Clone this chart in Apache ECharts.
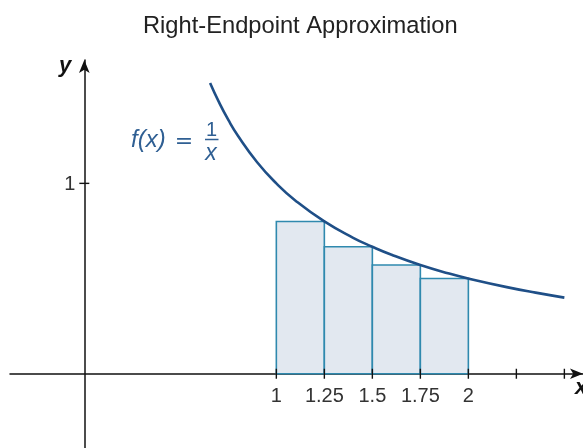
<!DOCTYPE html>
<html><head><meta charset="utf-8">
<script src="https://cdn.jsdelivr.net/npm/echarts@6/dist/echarts.min.js"></script>
<style>html,body{margin:0;padding:0;background:#fff}#c{width:583px;height:448px}</style>
</head><body><div id="c"></div>
<script>
// Data
var curveX = [0.655, 0.7, 0.75, 0.8, 0.9, 1.0, 1.1, 1.25, 1.4, 1.5, 1.6, 1.75, 1.9, 2.0, 2.2, 2.35, 2.5];
var curveY = [1.527, 1.429, 1.333, 1.25, 1.111, 1.0, 0.909, 0.8, 0.714, 0.667, 0.625, 0.571, 0.526, 0.5, 0.455, 0.426, 0.4];
var rectLeft = [1, 1.25, 1.5, 1.75];
var rectRight = [1.25, 1.5, 1.75, 2];
var rectHeight = [0.8, 0.667, 0.571, 0.5];
var xTickValues = [1, 1.25, 1.5, 1.75, 2, 2.25, 2.5];
var xTickLabels = ['1', '1.25', '1.5', '1.75', '2', '', ''];
var yTickValues = [1];
var yTickLabels = ['1'];

var curveData = curveX.map(function (x, i) { return [x, curveY[i]]; });
var rectData = rectLeft.map(function (l, i) { return [l, rectRight[i], rectHeight[i]]; });

var chart = echarts.init(document.getElementById('c'), null, {renderer: 'canvas'});
var labelFont = 'Liberation Sans, Arial, sans-serif';
var eqColor = '#2f5f93';
chart.setOption({
  animation: false,
  title: {
    text: 'Right-Endpoint Approximation',
    left: 138, top: 9,
    textStyle: {fontFamily: labelFont, fontSize: 23.7, fontWeight: 'normal', color: '#222'}
  },
  grid: {left: 10, top: 60, width: 573, height: 388, containLabel: false, outerBoundsMode: 'none'},
  xAxis: {
    type: 'value', min: -0.387, max: 2.597,
    splitLine: {show: false},
    axisLine: {onZero: true, lineStyle: {color: '#111', width: 1.5}, symbol: ['none', 'arrow'], symbolSize: [8, 13]},
    axisTick: {show: false},
    axisLabel: {show: false}
  },
  yAxis: {
    type: 'value', min: -0.390, max: 1.648,
    splitLine: {show: false},
    axisLine: {onZero: true, lineStyle: {color: '#111', width: 1.5}, symbol: ['none', 'arrow'], symbolSize: [8, 13]},
    axisTick: {show: false},
    axisLabel: {show: false}
  },
  series: [
    {
      type: 'custom', name: 'rects', data: rectData, z: 2,
      renderItem: function (params, api) {
        var p0 = api.coord([api.value(0), api.value(2)]);
        var p1 = api.coord([api.value(1), 0]);
        return {type: 'rect', shape: {x: p0[0], y: p0[1], width: p1[0] - p0[0], height: p1[1] - p0[1]},
          style: {fill: '#e2e8f0', stroke: '#2f89ae', lineWidth: 1.6}};
      }
    },
    {
      type: 'line', name: 'f', data: curveData, smooth: true, showSymbol: false, z: 5,
      lineStyle: {color: '#1f4f87', width: 2.6}
    },
    {
      type: 'custom', name: 'xticks', data: xTickValues.map(function (v) { return [v, 0]; }), z: 6,
      renderItem: function (params, api) {
        var p = api.coord([api.value(0), 0]);
        return {type: 'group', children: [
          {type: 'line', shape: {x1: p[0], y1: p[1] - 5, x2: p[0], y2: p[1] + 5},
            style: {stroke: '#111', lineWidth: 1.4}},
          {type: 'text', x: p[0], y: p[1] + 23, style: {text: xTickLabels[params.dataIndex],
            font: '20px Liberation Sans, Arial, sans-serif', fill: '#333', align: 'center', verticalAlign: 'middle'}}
        ]};
      }
    },
    {
      type: 'custom', name: 'yticks', data: yTickValues.map(function (v) { return [0, v]; }), z: 6,
      renderItem: function (params, api) {
        var p = api.coord([0, api.value(1)]);
        return {type: 'group', children: [
          {type: 'line', shape: {x1: p[0] - 5, y1: p[1], x2: p[0] + 5, y2: p[1]},
            style: {stroke: '#111', lineWidth: 1.4}},
          {type: 'text', x: p[0] - 9, y: p[1] + 1, style: {text: yTickLabels[params.dataIndex],
            font: '20px Liberation Sans, Arial, sans-serif', fill: '#333', align: 'right', verticalAlign: 'middle'}}
        ]};
      }
    }
  ],
  graphic: [
    {type: 'text', left: 59, top: 55, style: {text: 'y', font: 'italic bold 22px Liberation Sans, Arial, sans-serif', fill: '#111'}},
    {type: 'text', left: 575, top: 377, style: {text: 'x', font: 'italic bold 22px Liberation Sans, Arial, sans-serif', fill: '#111'}},
    {type: 'text', left: 131, top: 128, style: {text: 'f(x)', font: 'italic 24px Liberation Sans, Arial, sans-serif', fill: eqColor}},
    {type: 'text', x: 184, y: 142, style: {text: '=', font: '22px DejaVu Sans, sans-serif', fill: eqColor, align: 'center', verticalAlign: 'middle'}},
    {type: 'text', x: 211.5, y: 130, style: {text: '1', font: '20px Liberation Sans, Arial, sans-serif', fill: eqColor, align: 'center', verticalAlign: 'middle'}},
    {type: 'line', shape: {x1: 205, y1: 139.5, x2: 218.5, y2: 139.5}, style: {stroke: eqColor, lineWidth: 1.5}},
    {type: 'text', x: 211, y: 154, style: {text: 'x', font: 'italic 23px Liberation Sans, Arial, sans-serif', fill: eqColor, align: 'center', verticalAlign: 'middle'}}
  ]
});
</script></body></html>
